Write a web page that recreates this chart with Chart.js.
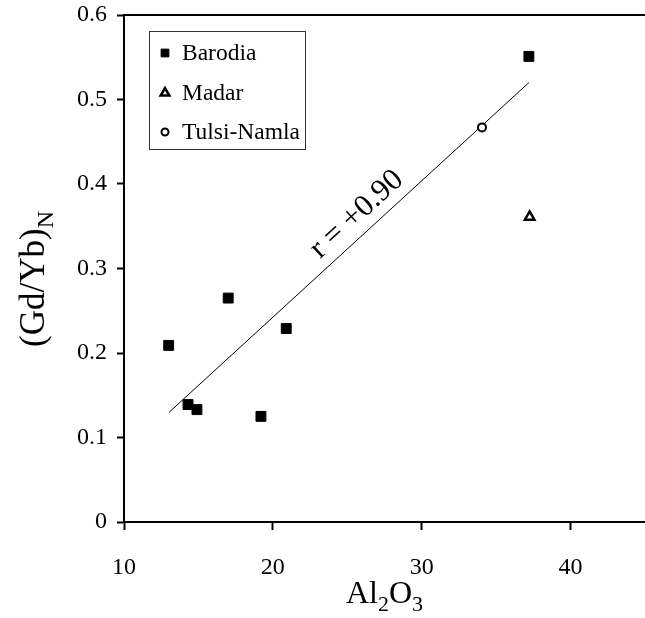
<!DOCTYPE html>
<html>
<head>
<meta charset="utf-8">
<script src="https://cdn.jsdelivr.net/npm/chart.js@4.4.1/dist/chart.umd.min.js"></script>
<style>
  html, body { margin: 0; padding: 0; background: #fff; }
  #wrap { width: 645px; height: 618px; }
</style>
</head>
<body>
<div id="wrap"><canvas id="chart"></canvas></div>
<script>
// values: Al2O3 (x) vs (Gd/Yb)N (y)
const barodiaAl = [13.0, 14.3, 14.9, 17.0, 19.2, 20.9, 37.2];
const barodiaGdYb = [0.209, 0.139, 0.133, 0.265, 0.125, 0.229, 0.551];
const madarAl = [37.25];
const madarGdYb = [0.361];
const tulsiAl = [34.05];
const tulsiGdYb = [0.467];
// ends of the drawn correlation line
const fitAl = [13.04, 37.2];
const fitGdYb = [0.13, 0.52];
const fitLabel = 'r = +0.90';

const xTicks = [10, 20, 30, 40];
const yTicks = [0, 0.1, 0.2, 0.3, 0.4, 0.5, 0.6];

const FONT = '"Liberation Serif", "Times New Roman", serif';

const pts = (xs, ys) => xs.map((x, i) => ({ x: x, y: ys[i] }));

// text with subscripts, parts = [[text, isSub], ...]
function subText(ctx, parts, x, y, size) {
  const subSize = Math.round(size * 0.68);
  let total = 0;
  parts.forEach(p => {
    ctx.font = (p[1] ? subSize : size) + 'px ' + FONT;
    total += ctx.measureText(p[0]).width;
  });
  let cx = x - total / 2;
  ctx.textAlign = 'left';
  ctx.textBaseline = 'alphabetic';
  parts.forEach(p => {
    ctx.font = (p[1] ? subSize : size) + 'px ' + FONT;
    ctx.fillText(p[0], cx, p[1] ? y + size * 0.25 : y);
    cx += ctx.measureText(p[0]).width;
  });
}

const extras = {
  id: 'extras',
  afterDraw(chart) {
    const ctx = chart.ctx;
    const area = chart.chartArea;
    const xs = chart.scales.x, ys = chart.scales.y;
    ctx.save();
    ctx.fillStyle = '#000';
    ctx.strokeStyle = '#000';

    // top frame line
    ctx.lineWidth = 2;
    ctx.beginPath();
    ctx.moveTo(area.left, area.top);
    ctx.lineTo(area.right, area.top);
    ctx.stroke();

    // correlation label along the line
    const x1 = xs.getPixelForValue(fitAl[0]), y1 = ys.getPixelForValue(fitGdYb[0]);
    const x2 = xs.getPixelForValue(fitAl[1]), y2 = ys.getPixelForValue(fitGdYb[1]);
    ctx.save();
    ctx.translate((x1 + x2) / 2, (y1 + y2) / 2);
    ctx.rotate(Math.atan2(y2 - y1, x2 - x1));
    ctx.font = '31px ' + FONT;
    ctx.textAlign = 'center';
    ctx.textBaseline = 'alphabetic';
    ctx.fillText(fitLabel, 28, -11);
    ctx.restore();

    // axis titles
    subText(ctx, [['Al', false], ['2', true], ['O', false], ['3', true]],
      (area.left + area.right) / 2, 603, 32);
    ctx.save();
    ctx.translate(44, 279);
    ctx.rotate(-Math.PI / 2);
    subText(ctx, [['(Gd/Yb)', false], ['N', true]], 0, 0, 35);
    ctx.restore();

    // legend box with hand drawn markers
    ctx.lineWidth = 1;
    ctx.strokeStyle = '#333';
    ctx.strokeRect(149.5, 31.5, 156, 118);
    const rows = [53, 93, 132];
    chart.data.datasets.slice(0, 3).forEach((ds, i) => {
      ctx.fillStyle = ds.backgroundColor;
      ctx.strokeStyle = ds.borderColor;
      ctx.lineWidth = ds.borderWidth;
      Chart.helpers.drawPoint(ctx, {
        pointStyle: ds.pointStyle,
        radius: ds.legendRadius,
        borderWidth: ds.borderWidth
      }, 165, rows[i]);
      ctx.fillStyle = '#000';
      ctx.font = '23.5px ' + FONT;
      ctx.textAlign = 'left';
      ctx.textBaseline = 'middle';
      ctx.fillText(ds.label, 182, rows[i] + 1);
    });
    ctx.restore();
  }
};

new Chart(document.getElementById('chart'), {
  type: 'scatter',
  data: {
    datasets: [
      {
        label: 'Barodia',
        data: pts(barodiaAl, barodiaGdYb),
        pointStyle: 'rect',
        pointRadius: 7,
        legendRadius: 5.5,
        backgroundColor: '#000',
        borderColor: '#000',
        borderWidth: 1
      },
      {
        label: 'Madar',
        data: pts(madarAl, madarGdYb),
        pointStyle: 'triangle',
        pointRadius: 5.5,
        legendRadius: 5,
        backgroundColor: '#fff',
        borderColor: '#000',
        borderWidth: 2.5
      },
      {
        label: 'Tulsi-Namla',
        data: pts(tulsiAl, tulsiGdYb),
        pointStyle: 'circle',
        pointRadius: 4,
        legendRadius: 3.5,
        backgroundColor: '#fff',
        borderColor: '#000',
        borderWidth: 2
      },
      {
        type: 'line',
        label: 'fit',
        data: pts(fitAl, fitGdYb),
        borderColor: '#000',
        borderWidth: 1,
        pointRadius: 0,
        fill: false
      }
    ]
  },
  options: {
    responsive: true,
    maintainAspectRatio: false,
    animation: false,
    layout: { autoPadding: false, padding: { top: 15, right: 0, bottom: 0, left: 0 } },
    plugins: {
      legend: { display: false },
      tooltip: { enabled: false }
    },
    scales: {
      x: {
        type: 'linear',
        min: 10,
        max: 45,
        afterBuildTicks: s => { s.ticks = xTicks.map(v => ({ value: v })); },
        afterFit: s => { s.height = 96; s.paddingRight = 0; s.paddingLeft = 0; },
        border: { display: true, color: '#000', width: 2 },
        grid: { drawOnChartArea: false, drawTicks: true, tickLength: 8, tickWidth: 2, tickColor: '#000' },
        ticks: { color: '#000', font: { family: FONT, size: 24 }, padding: 23, maxRotation: 0 }
      },
      y: {
        type: 'linear',
        min: 0,
        max: 0.6,
        afterBuildTicks: s => { s.ticks = yTicks.map(v => ({ value: v })); },
        afterFit: s => { s.width = 124; s.paddingTop = 0; s.paddingBottom = 0; },
        border: { display: true, color: '#000', width: 2 },
        grid: { drawOnChartArea: false, drawTicks: true, tickLength: 7, tickWidth: 2, tickColor: '#000' },
        ticks: { color: '#000', font: { family: FONT, size: 24 }, padding: 10, callback: v => String(v) }
      }
    }
  },
  plugins: [extras]
});
</script>
</body>
</html>
